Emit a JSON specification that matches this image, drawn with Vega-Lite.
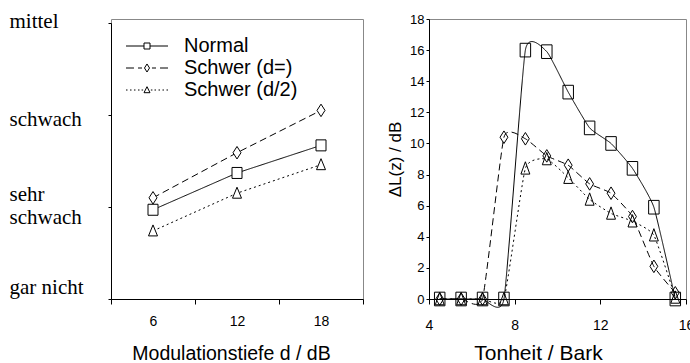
{
  "$schema": "https://vega.github.io/schema/vega-lite/v6.json",
  "padding": {"left": 8, "top": 9, "right": 0, "bottom": 0},
  "spacing": 22,
  "config": {
    "font": "Liberation Sans",
    "view": {"stroke": "#888", "strokeWidth": 1},
    "axis": {"domainColor": "black", "tickColor": "black", "labelColor": "black", "titleColor": "black", "grid": false, "titleFontWeight": "normal"}
  },
  "datasets": {
    "left": [
      {"s": "Normal", "d": 6, "v": 0.97},
      {"s": "Normal", "d": 12, "v": 1.37},
      {"s": "Normal", "d": 18, "v": 1.67},
      {"s": "Schwer (d=)", "d": 6, "v": 1.10},
      {"s": "Schwer (d=)", "d": 12, "v": 1.59},
      {"s": "Schwer (d=)", "d": 18, "v": 2.05},
      {"s": "Schwer (d/2)", "d": 6, "v": 0.74},
      {"s": "Schwer (d/2)", "d": 12, "v": 1.15},
      {"s": "Schwer (d/2)", "d": 18, "v": 1.46}
    ],
    "right": [
      {"s": "Normal", "z": 4.5, "v": 0},
      {"s": "Normal", "z": 5.5, "v": 0},
      {"s": "Normal", "z": 6.5, "v": 0},
      {"s": "Normal", "z": 7.5, "v": 0},
      {"s": "Normal", "z": 8.5, "v": 16.0},
      {"s": "Normal", "z": 9.5, "v": 15.9},
      {"s": "Normal", "z": 10.5, "v": 13.3},
      {"s": "Normal", "z": 11.5, "v": 11.0},
      {"s": "Normal", "z": 12.5, "v": 10.0},
      {"s": "Normal", "z": 13.5, "v": 8.4},
      {"s": "Normal", "z": 14.5, "v": 5.9},
      {"s": "Normal", "z": 15.5, "v": 0},
      {"s": "Schwer (d=)", "z": 4.5, "v": 0},
      {"s": "Schwer (d=)", "z": 5.5, "v": 0},
      {"s": "Schwer (d=)", "z": 6.5, "v": 0},
      {"s": "Schwer (d=)", "z": 7.5, "v": 10.4},
      {"s": "Schwer (d=)", "z": 8.5, "v": 10.3},
      {"s": "Schwer (d=)", "z": 9.5, "v": 9.2},
      {"s": "Schwer (d=)", "z": 10.5, "v": 8.6},
      {"s": "Schwer (d=)", "z": 11.5, "v": 7.4},
      {"s": "Schwer (d=)", "z": 12.5, "v": 6.8},
      {"s": "Schwer (d=)", "z": 13.5, "v": 5.3},
      {"s": "Schwer (d=)", "z": 14.5, "v": 2.1},
      {"s": "Schwer (d=)", "z": 15.5, "v": 0.4},
      {"s": "Schwer (d/2)", "z": 4.5, "v": 0},
      {"s": "Schwer (d/2)", "z": 5.5, "v": 0},
      {"s": "Schwer (d/2)", "z": 6.5, "v": 0},
      {"s": "Schwer (d/2)", "z": 7.5, "v": 0},
      {"s": "Schwer (d/2)", "z": 8.5, "v": 8.4},
      {"s": "Schwer (d/2)", "z": 9.5, "v": 9.0},
      {"s": "Schwer (d/2)", "z": 10.5, "v": 7.8},
      {"s": "Schwer (d/2)", "z": 11.5, "v": 6.4},
      {"s": "Schwer (d/2)", "z": 12.5, "v": 5.5},
      {"s": "Schwer (d/2)", "z": 13.5, "v": 5.0},
      {"s": "Schwer (d/2)", "z": 14.5, "v": 4.1},
      {"s": "Schwer (d/2)", "z": 15.5, "v": 0.1}
    ]
  },
  "hconcat": [
    {
      "width": 252,
      "height": 280,
      "data": {"name": "left"},
      "encoding": {
        "x": {
          "field": "d", "type": "ordinal",
          "scale": {"type": "band", "paddingInner": 0, "paddingOuter": 0},
          "axis": {"title": "Modulationstiefe d / dB", "titleFontSize": 19.5, "titlePadding": 16, "titleX": 120, "labelFontSize": 14, "labelAngle": 0, "labelPadding": 10, "tickSize": 5, "tickBand": "extent"}
        },
        "y": {
          "field": "v", "type": "quantitative",
          "scale": {"domain": [0, 3], "range": [280, 4], "nice": false, "zero": false},
          "axis": {
            "title": null,
            "values": [0, 1, 2, 3],
            "labelExpr": "datum.value == 0 ? 'gar nicht' : datum.value == 1 ? ['sehr', 'schwach'] : datum.value == 2 ? 'schwach' : 'mittel'",
            "labelAlign": "left",
            "labelBaseline": "middle",
            "labelPadding": 99,
            "labelFont": "Liberation Serif",
            "labelFontSize": 21,
            "labelLineHeight": 23,
            "labelOffset": {"condition": [{"test": "datum.value == 0", "value": -12}, {"test": "datum.value == 1", "value": -13}, {"test": "datum.value == 2", "value": 4}], "value": -2},
            "tickSize": 3
          }
        }
      },
      "layer": [
        {
          "mark": {"type": "line", "color": "black", "strokeWidth": 1},
          "encoding": {
            "strokeDash": {"field": "s", "type": "nominal", "scale": {"domain": ["Schwer (d/2)", "Normal", "Schwer (d=)"], "range": [[2, 3], [1, 0], [7, 4]]}, "legend": null}
          }
        },
        {
          "mark": {"type": "point", "filled": true, "fill": "white", "stroke": "black", "strokeWidth": 1, "opacity": 1, "size": 100},
          "encoding": {
            "shape": {
              "field": "s", "type": "nominal",
              "scale": {"domain": ["Schwer (d/2)", "Normal", "Schwer (d=)"], "range": ["M0,-1.2L0.9,1H-0.9Z", "M-1,-1.1H1V1.1H-1Z", "M0,-1.25L0.8,0L0,1.25L-0.8,0Z"]},
              "legend": null
            }
          }
        },
        {
          "mark": {"type": "point", "filled": false, "stroke": "black", "strokeWidth": 1, "opacity": 0, "size": 144},
          "encoding": {
            "shape": {
              "field": "s", "type": "nominal",
              "sort": ["Normal", "Schwer (d=)", "Schwer (d/2)"],
              "scale": {
                "domain": ["Normal", "Schwer (d=)", "Schwer (d/2)"],
                "range": [
                  "M-3.5,0H-0.5M0.5,0H3.5M-0.5,-0.5H0.5V0.5H-0.5Z",
                  "M-3.5,0H-2.17M-1.5,0H-0.83M0.83,0H1.5M2.17,0H3.5M0,-0.67L0.42,0L0,0.67L-0.42,0Z",
                  "M-3.5,0H-3.25M-2.83,0H-2.58M-2.17,0H-1.92M-1.5,0H-1.25M-0.9,0H-0.65M0.65,0H0.9M1.25,0H1.5M1.92,0H2.17M2.58,0H2.83M3.25,0H3.5M0,-0.55L0.5,0.45H-0.5Z"
                ]
              },
              "legend": {
                "title": null,
                "orient": "none",
                "legendX": 26,
                "legendY": 17,
                "padding": 0,
                "symbolSize": 144,
                "symbolOpacity": 1,
                "symbolStrokeColor": "black",
                "symbolFillColor": "white",
                "symbolStrokeWidth": 1,
                "labelFont": "Liberation Sans",
                "labelFontSize": 20,
                "labelColor": "black",
                "labelOffset": 27,
                "labelLimit": 0,
                "rowPadding": 2,
                "encode": {
                  "symbols": {
                    "fill": {"value": "white"},
                    "stroke": {"value": "black"},
                    "strokeWidth": {"value": 1},
                    "opacity": {"value": 1}
                  }
                }
              }
            }
          }
        }
      ],
      "resolve": {"scale": {"shape": "independent"}}
    },
    {
      "width": 257,
      "height": 280,
      "data": {"name": "right"},
      "encoding": {
        "x": {
          "field": "z", "type": "quantitative",
          "scale": {"domain": [4, 16], "nice": false, "zero": false},
          "axis": {"title": "Tonheit / Bark", "titleFontSize": 21, "titlePadding": 10, "titleX": 109, "values": [4, 8, 12, 16], "labelFontSize": 14, "labelPadding": 14, "tickSize": 5, "labelFlush": false}
        },
        "y": {
          "field": "v", "type": "quantitative",
          "scale": {"domain": [0, 18], "nice": false},
          "axis": {"title": "ΔL(z) / dB", "titleFontSize": 17, "titlePadding": 5, "values": [0, 2, 4, 6, 8, 10, 12, 14, 16, 18], "labelFontSize": 13, "labelPadding": 2, "tickSize": 3}
        }
      },
      "layer": [
        {
          "mark": {"type": "line", "color": "black", "strokeWidth": 1, "interpolate": "cardinal", "tension": 0.55, "clip": false},
          "encoding": {
            "strokeDash": {"field": "s", "type": "nominal", "scale": {"domain": ["Schwer (d/2)", "Normal", "Schwer (d=)"], "range": [[2, 3], [1, 0], [7, 4]]}, "legend": null}
          }
        },
        {
          "mark": {"type": "point", "filled": false, "stroke": "black", "strokeWidth": 1, "opacity": 1, "size": 110},
          "encoding": {
            "shape": {
              "field": "s", "type": "nominal",
              "scale": {"domain": ["Normal", "Schwer (d=)", "Schwer (d/2)"], "range": ["M-1,-1.3H1V1.3H-1Z", "M0,-1.2L0.75,0L0,1.2L-0.75,0Z", "M0,-1.25L0.85,1.1H-0.85Z"]},
              "legend": null
            }
          }
        }
      ]
    }
  ],
  "resolve": {"scale": {"shape": "independent", "strokeDash": "independent"}}
}
